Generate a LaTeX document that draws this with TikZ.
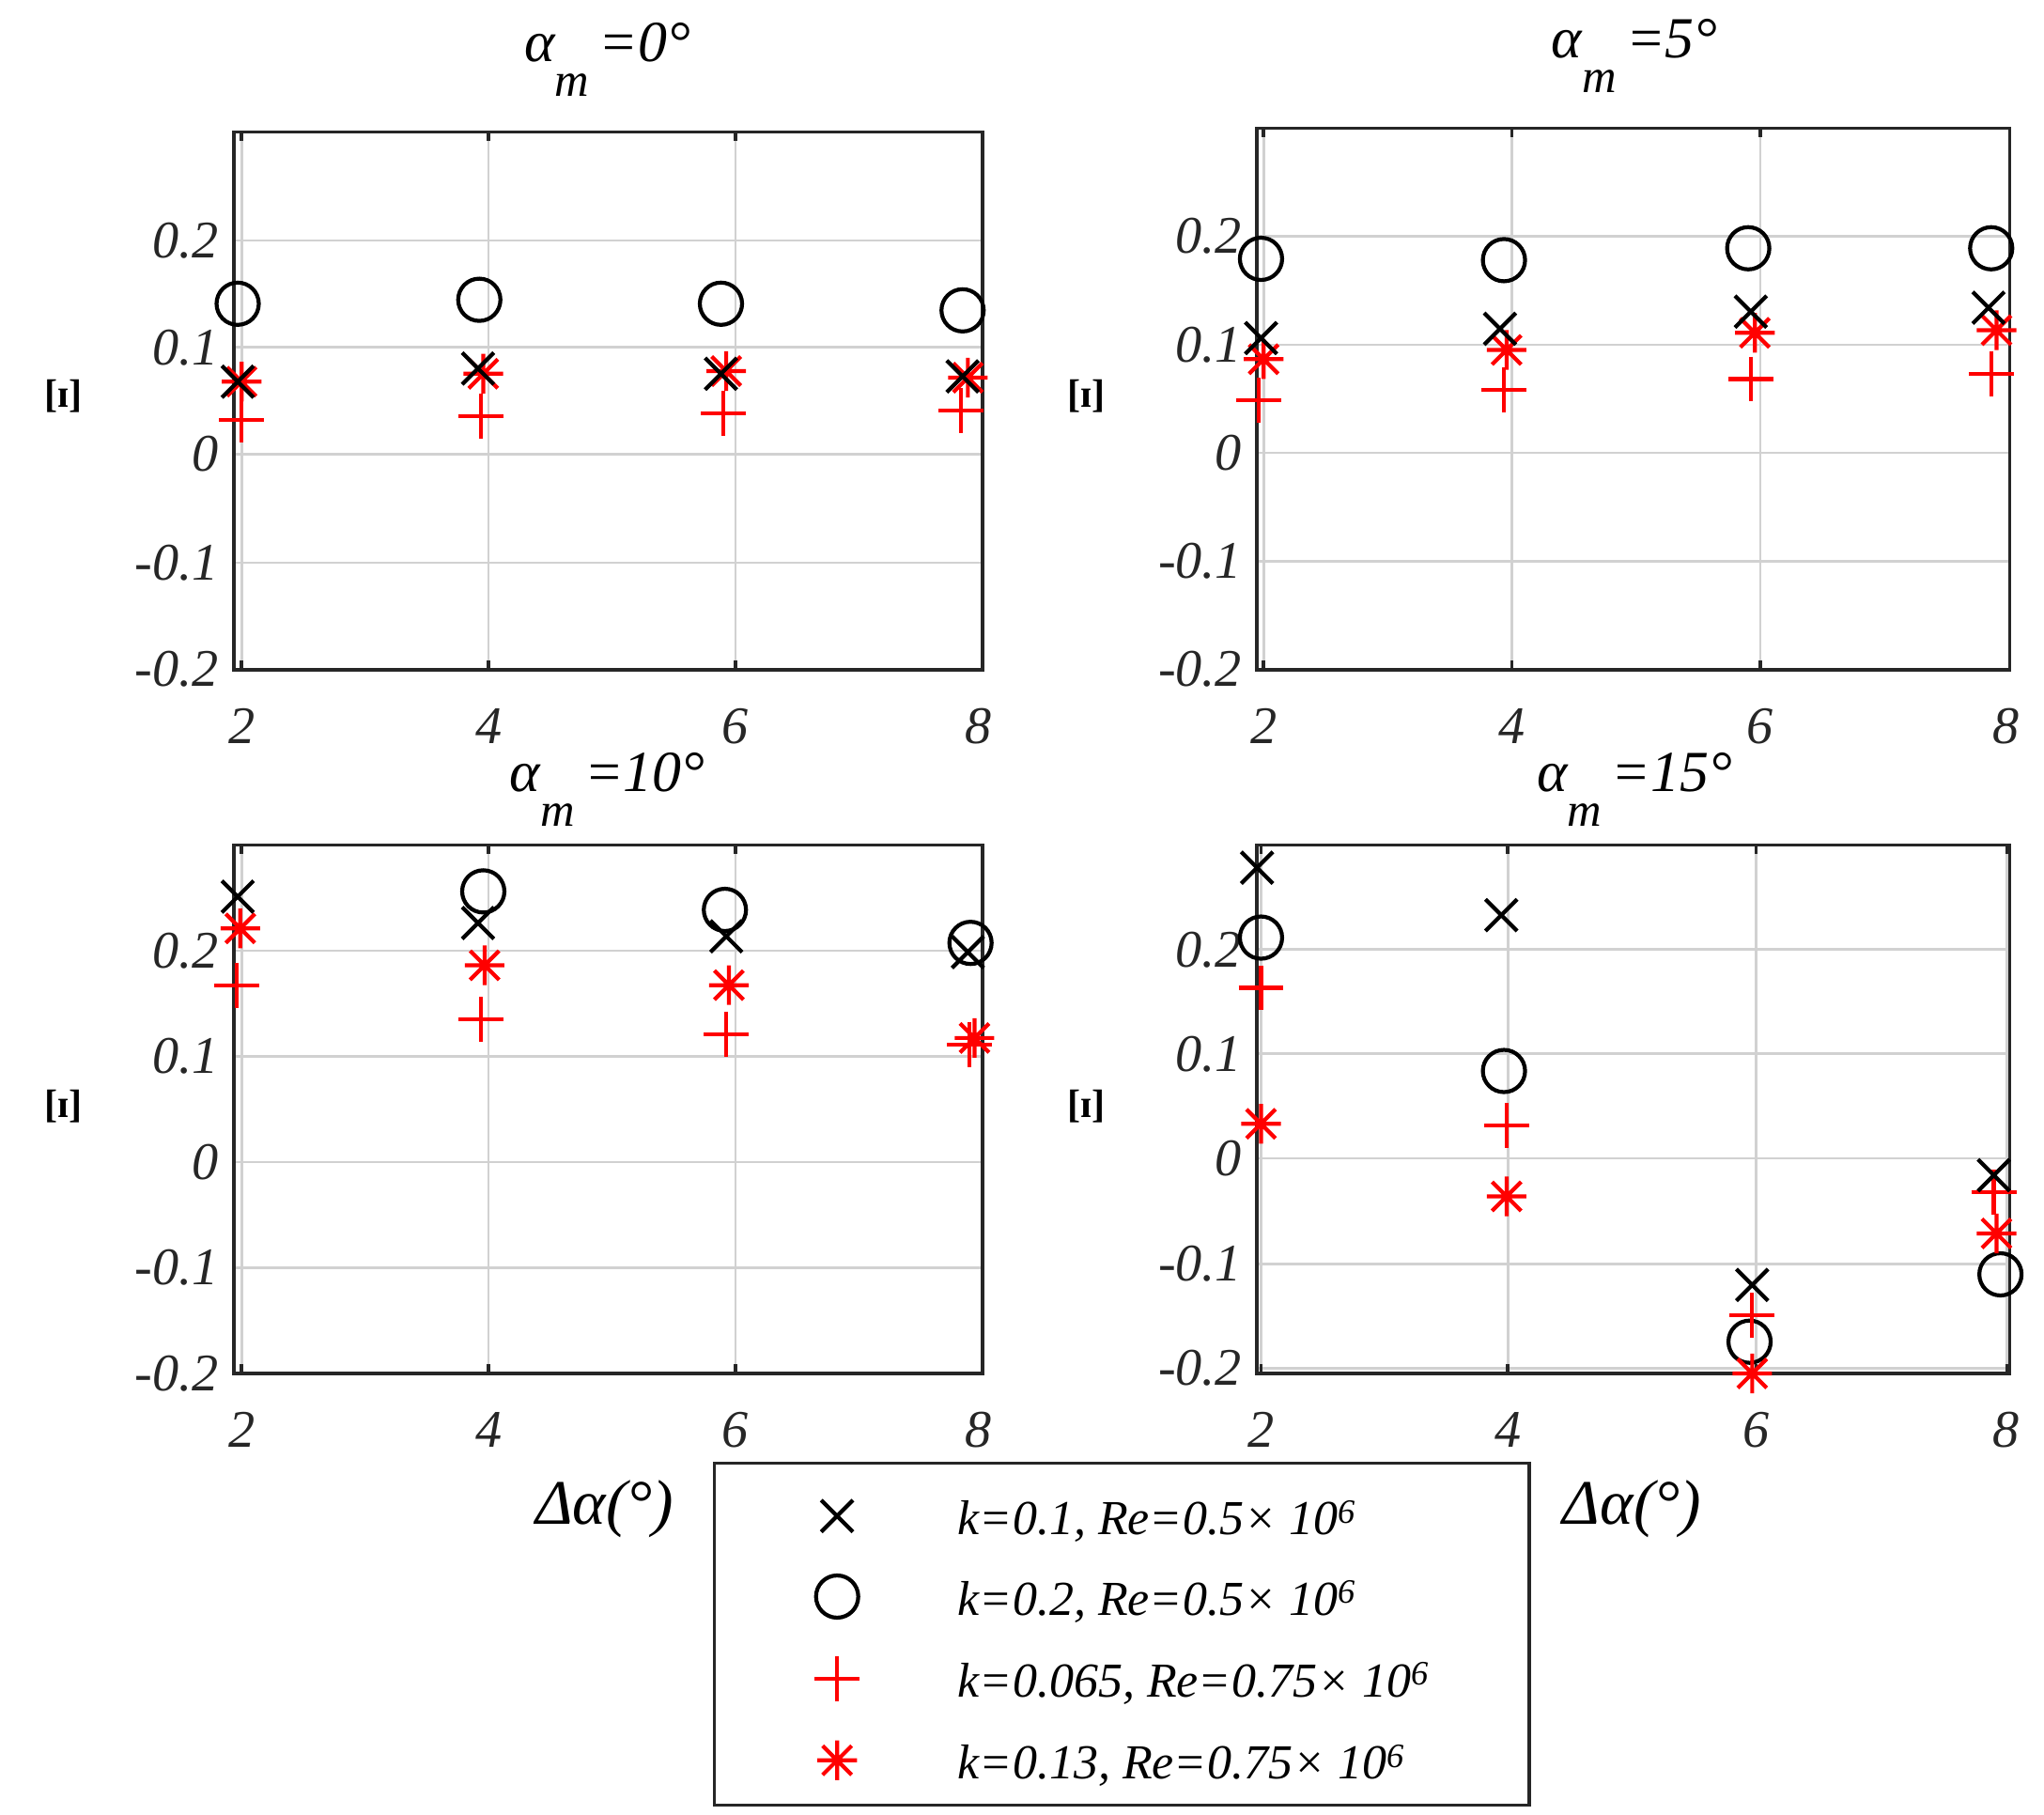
\documentclass[tikz,border=0pt]{standalone}
\usepackage{fontspec}
\setmainfont{Liberation Serif}
\begin{document}
\begin{tikzpicture}[x=1pt,y=-1pt,
  grid/.style={draw=black!18,line width=1.8},
  box/.style={draw=black!85,line width=2.6},
  tick/.style={font=\fontsize{40}{40}\selectfont\itshape,text=black!85},
  ttl/.style={font=\fontsize{44}{44}\selectfont\itshape},
  cross/.pic={\draw[black,line width=3] (-12,-12)--(12,12) (-12,12)--(12,-12);},
  circ/.pic={\draw[black,line width=3] (0,0) circle[radius=16];},
  plusm/.pic={\draw[red,line width=3] (-17,0)--(17,0) (0,-17)--(0,17);},
  ast/.pic={\draw[red,line width=3] (-15,0)--(15,0) (0,-15)--(0,15) (-11,-11)--(11,11) (-11,11)--(11,-11);}]
\useasboundingbox (0,0) rectangle (1548,1374);
\newcommand\mypanel[6]{%
  \foreach \gx in {#5} \draw[grid] (\gx,#3)--(\gx,#4);
  \foreach \gy/\lab in {#6} {\draw[grid] (#1,\gy)--(#2,\gy);
     \node[tick,anchor=east] (yl\gy) at (#1-8,\gy) {\lab};}
  \draw[box] (#1,#3) rectangle (#2,#4);
  \foreach \gx in {#5} {\draw[box] (\gx,#4)--(\gx,#4-7); \draw[box] (\gx,#3)--(\gx,#3+7);}
}
\newcommand\mytitle[1]{α\raisebox{-0.6em}{\fontsize{36}{36}\selectfont m}\,=#1}
\newcommand\lbl{\fontsize{30}{30}\selectfont\bfseries [ɪ]}
% Panel A
\mypanel{177}{744}{100}{507}{183,370,557,744}{182/0.2,263/0.1,344/0,426/-0.1,507/-0.2}
\foreach \x/\l in {183/2,370/4,557/6,741/8} \node[tick] (ax\l) at (\x,550) {\l};
\node[ttl] (ta) at (460,45) {\mytitle{0°}};
\node (yla) at (48,300) {\lbl};
\foreach \x/\y in {180/230,363/227,546/230,729/235} \pic at (\x,\y) {circ};
\foreach \x/\y in {183/318,364/315,548/313,728/311} \pic at (\x,\y) {plusm};
\foreach \x/\y in {183/289,366/283,550/281,733/286} \pic at (\x,\y) {ast};
\foreach \x/\y in {180/289,362/279,546/283,729/285} \pic at (\x,\y) {cross};
% Panel B
\mypanel{952}{1522}{97}{507}{957,1145,1333,1522}{179/0.2,261/0.1,343/0,425/-0.1,507/-0.2}
\foreach \x/\l in {957/2,1145/4,1333/6,1519/8} \node[tick] (bx\l) at (\x,550) {\l};
\node[ttl] (tb) at (1238,42) {\mytitle{5°}};
\node (ylb) at (823,300) {\lbl};
\foreach \x/\y in {955/196,1139/197,1324/188,1508/188} \pic at (\x,\y) {circ};
\foreach \x/\y in {953/303,1139/295,1326/287,1508/283} \pic at (\x,\y) {plusm};
\foreach \x/\y in {957/272,1141/265,1329/252,1512/250} \pic at (\x,\y) {ast};
\foreach \x/\y in {955/256,1136/249,1326/236,1506/233} \pic at (\x,\y) {cross};
% Panel C
\mypanel{177}{744}{640}{1040}{183,370,557,744}{720/0.2,800/0.1,880/0,960/-0.1,1040/-0.2}
\foreach \x/\l in {183/2,370/4,557/6,741/8} \node[tick] (cx\l) at (\x,1083) {\l};
\node[ttl] (tc) at (460,598) {\mytitle{10°}};
\node (ylc) at (48,838) {\lbl};
\node[font=\fontsize{48}{48}\selectfont\itshape] (xlc) at (458,1143) {Δα(°)};
\foreach \x/\y in {366/675,549/689,735/714} \pic at (\x,\y) {circ};
\foreach \x/\y in {179/746,364/772,550/783,734/791} \pic at (\x,\y) {plusm};
\foreach \x/\y in {182/703,367/731,552/746,738/786} \pic at (\x,\y) {ast};
\foreach \x/\y in {180/679,362/699,550/709,733/721} \pic at (\x,\y) {cross};
% Panel D
\mypanel{952}{1522}{640}{1040}{955,1142,1330,1520}{719/0.2,798/0.1,877/0,957/-0.1,1036/-0.2}
\foreach \x/\l in {955/2,1142/4,1330/6,1519/8} \node[tick] (dx\l) at (\x,1083) {\l};
\node[ttl] (td) at (1238,598) {\mytitle{15°}};
\node (yld) at (823,838) {\lbl};
\node[font=\fontsize{48}{48}\selectfont\itshape] (xld) at (1236,1143) {Δα(°)};
\foreach \x/\y in {955/710,1139/811,1325/1016,1515/965} \pic at (\x,\y) {circ};
\foreach \x/\y in {955/748,1141/852,1327/996,1510/903} \pic at (\x,\y) {plusm};
\foreach \x/\y in {955/851,1141/906,1327/1040,1512/934} \pic at (\x,\y) {ast};
\foreach \x/\y in {952/657,1137/693,1327/973,1510/890} \pic at (\x,\y) {cross};
% Legend
\draw[fill=white,draw=black!85,line width=2.6] (541,1108) rectangle (1158,1367);
\pic at (634,1148) {cross};
\pic at (634,1209) {circ};
\pic at (634,1271) {plusm};
\pic at (634,1333) {ast};
\foreach \y/\t in {1152/{k=0.1, Re=0.5× 10\textsuperscript{6}},1213/{k=0.2, Re=0.5× 10\textsuperscript{6}},1275/{k=0.065, Re=0.75× 10\textsuperscript{6}},1337/{k=0.13, Re=0.75× 10\textsuperscript{6}}}
  \node[anchor=west,font=\fontsize{37}{37}\selectfont\itshape] at (722,\y) {\t};
\end{tikzpicture}
\end{document}
